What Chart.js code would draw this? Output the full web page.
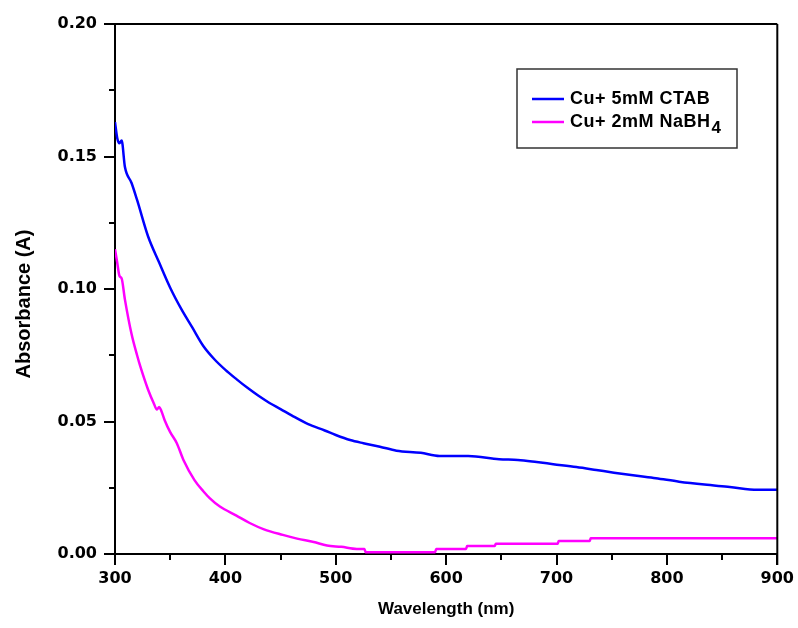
<!DOCTYPE html>
<html lang="en">
<head>
  <meta charset="UTF-8" />
  <title>Absorbance spectra</title>
  <script src="https://cdn.jsdelivr.net/npm/chart.js"></script>
  <style>
    html, body { margin: 0; padding: 0; background: #fff; }
    #wrap { width: 798px; height: 628px; }
  </style>
</head>
<body>
  <div id="wrap"><canvas id="spectra" width="798" height="628"></canvas></div>

  <script>
    // Cu + 5mM CTAB
    const ctabNm  = [300, 302, 304, 306, 309, 315, 320, 330, 340, 350, 360, 370, 380, 390, 400, 410, 420, 430, 440,
                     450, 460, 475, 490, 500, 513, 525, 540, 555, 577, 594, 620, 648, 665, 682, 697, 718, 736, 752, 771,
                     790, 811, 834, 857, 882, 900];
    const ctabAbs = [0.163, 0.157, 0.155, 0.156, 0.146, 0.140, 0.1336, 0.1198, 0.110, 0.1005, 0.0925, 0.0855, 0.0785, 0.0735, 0.0695, 0.066, 0.0627, 0.0597, 0.057,
                     0.0547, 0.0523, 0.049, 0.0466, 0.0449, 0.043, 0.0418, 0.0405, 0.039, 0.0382, 0.037, 0.037, 0.0358, 0.0355, 0.0347, 0.0339, 0.0328, 0.0317, 0.0307, 0.0296,
                     0.0286, 0.0273, 0.0262, 0.0253, 0.0242, 0.0242];

    // Cu + 2mM NaBH4
    const nabhNm  = [300, 302, 304, 306, 309, 315, 320, 323, 330, 335, 338, 340, 342, 345, 350, 356, 362, 372, 380, 386, 395,
                     410, 422, 435, 452, 465, 480, 492, 505, 519, 526, 527, 590, 591, 618, 619, 644, 645, 701, 702,
                     730, 731, 900];
    const nabhAbs = [0.115, 0.110, 0.105, 0.104, 0.096, 0.083, 0.075, 0.0707, 0.062, 0.057, 0.0545, 0.0555, 0.054, 0.0505, 0.046, 0.0418, 0.0355, 0.0279, 0.0237, 0.021, 0.0179,
                     0.0145, 0.0117, 0.0093, 0.0072, 0.0058, 0.0045, 0.0032, 0.0027, 0.0019, 0.0019, 0.0007, 0.0007, 0.0019, 0.0019, 0.003, 0.003, 0.0039, 0.0039, 0.0049,
                     0.0049, 0.0059, 0.0059];

    const seriesNames  = ['Cu+ 5mM CTAB', 'Cu+ 2mM NaBH4'];
    const seriesColors = ['#0000ff', '#ff00ff'];

    const xTicks = [300, 400, 500, 600, 700, 800, 900];
    const yTicks = [0.00, 0.05, 0.10, 0.15, 0.20];

    const toPoints = (xs, ys) => xs.map((x, i) => ({ x: x, y: ys[i] }));

    // top/right frame, minor ticks, rotated y title, boxed legend
    const framePlugin = {
      id: 'frame',
      afterDraw(chart) {
        const ctx = chart.ctx;
        const a = chart.chartArea;
        const xs = chart.scales.x, ys = chart.scales.y;
        ctx.save();
        ctx.strokeStyle = '#000';
        ctx.lineWidth = 2;
        ctx.beginPath();
        ctx.moveTo(a.left, a.top);
        ctx.lineTo(a.right, a.top);
        ctx.moveTo(a.right, a.top);
        ctx.lineTo(a.right, a.bottom + 11);
        // minor ticks
        for (let i = 0; i < xTicks.length - 1; i++) {
          const px = Math.round(xs.getPixelForValue((xTicks[i] + xTicks[i + 1]) / 2));
          ctx.moveTo(px, a.bottom);
          ctx.lineTo(px, a.bottom + 6);
        }
        for (let i = 0; i < yTicks.length - 1; i++) {
          const py = Math.round(ys.getPixelForValue((yTicks[i] + yTicks[i + 1]) / 2));
          ctx.moveTo(a.left, py);
          ctx.lineTo(a.left - 6, py);
        }
        ctx.stroke();

        // y axis title
        ctx.translate(24, 304);
        ctx.rotate(-Math.PI / 2);
        ctx.fillStyle = '#000';
        ctx.font = 'bold 20px "Liberation Sans", Arial, sans-serif';
        ctx.textAlign = 'center';
        ctx.textBaseline = 'middle';
        ctx.fillText(chart.options.scales.y.title.text, 0, 0);
        ctx.restore();

        // legend box
        ctx.save();
        ctx.strokeStyle = '#333';
        ctx.lineWidth = 1.5;
        ctx.strokeRect(517, 69, 220, 79);
        ctx.font = 'bold 18px "Liberation Sans", Arial, sans-serif';
        ctx.letterSpacing = '0.5px';
        ctx.textBaseline = 'middle';
        chart.data.datasets.forEach((ds, i) => {
          const y = 99 + i * 23;
          ctx.strokeStyle = ds.borderColor;
          ctx.lineWidth = 2.5;
          ctx.beginPath();
          ctx.moveTo(532, y);
          ctx.lineTo(564, y);
          ctx.stroke();
          ctx.fillStyle = '#000';
          const m = ds.label.match(/^(.*[A-Za-z])(\d+)$/);
          const main = m ? m[1] : ds.label;
          ctx.fillText(main, 570, y);
          if (m) {
            const w = ctx.measureText(main).width;
            ctx.font = 'bold 17px "Liberation Sans", Arial, sans-serif';
            ctx.fillText(m[2], 570 + w + 1, y + 6);
            ctx.font = 'bold 18px "Liberation Sans", Arial, sans-serif';
          }
        });
        ctx.restore();
      }
    };

    const tickFont = { family: '"DejaVu Sans", Verdana, sans-serif', size: 16, weight: 'bold' };

    const ctx = document.getElementById('spectra').getContext('2d');
    new Chart(ctx, {
      type: 'line',
      data: {
        datasets: [
          { label: seriesNames[0], data: toPoints(ctabNm, ctabAbs), borderColor: seriesColors[0], borderWidth: 2.5, pointRadius: 0, cubicInterpolationMode: 'monotone', fill: false },
          { label: seriesNames[1], data: toPoints(nabhNm, nabhAbs), borderColor: seriesColors[1], borderWidth: 2.5, pointRadius: 0, cubicInterpolationMode: 'monotone', fill: false }
        ]
      },
      options: {
        responsive: false,
        animation: false,
        layout: { padding: { left: 0, right: 20, top: 24, bottom: 0 } },
        plugins: { legend: { display: false }, tooltip: { enabled: false } },
        scales: {
          x: {
            type: 'linear',
            min: 300,
            max: 900,
            afterFit: s => { s.height = 74; },
            afterBuildTicks: s => { s.ticks = xTicks.map(v => ({ value: v })); },
            ticks: { font: tickFont, color: '#000', padding: 4, maxRotation: 0 },
            grid: { drawOnChartArea: false, color: '#000', lineWidth: 2, tickLength: 11 },
            border: { display: true, color: '#000', width: 2 },
            title: {
              display: true,
              text: 'Wavelength (nm)',
              color: '#000',
              font: { family: '"Liberation Sans", Arial, sans-serif', size: 17, weight: 'bold' },
              padding: { top: 0, bottom: 8 }
            }
          },
          y: {
            min: 0,
            max: 0.2,
            afterFit: s => { s.width = 115; },
            afterBuildTicks: s => { s.ticks = yTicks.map(v => ({ value: v })); },
            ticks: { font: tickFont, color: '#000', padding: 7, callback: v => v.toFixed(2) },
            grid: { drawOnChartArea: false, color: '#000', lineWidth: 2, tickLength: 11 },
            border: { display: true, color: '#000', width: 2 },
            title: { display: false, text: 'Absorbance (A)' }
          }
        }
      },
      plugins: [framePlugin]
    });
  </script>
</body>
</html>
